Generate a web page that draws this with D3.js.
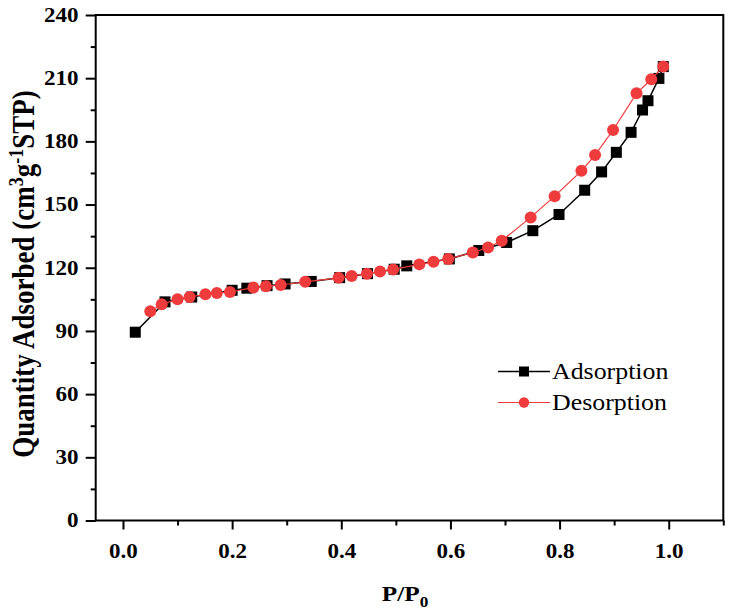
<!DOCTYPE html>
<html>
<head>
<meta charset="utf-8">
<script src="https://cdn.jsdelivr.net/npm/d3@7"></script>
<style>
  html, body { margin: 0; padding: 0; background: #fff; }
  svg { display: block; }
</style>
</head>
<body>
<svg id="chart" width="730" height="613"></svg>
<script>
// ---- Data ----
const adsP = [0.0225, 0.077, 0.126, 0.200, 0.227, 0.264, 0.297, 0.345, 0.397, 0.448, 0.497, 0.520, 0.598, 0.652, 0.703, 0.751, 0.799, 0.846, 0.877, 0.904, 0.931, 0.952, 0.962, 0.982, 0.990];
const adsQ = [89.4, 103.8, 106.1, 109.3, 110.3, 111.5, 112.3, 113.5, 115.3, 117.2, 119.3, 120.9, 124.2, 128.2, 132.0, 137.6, 145.3, 156.8, 165.5, 174.8, 184.3, 194.9, 199.3, 209.9, 215.5];
const desP = [0.990, 0.968, 0.941, 0.898, 0.865, 0.840, 0.791, 0.747, 0.694, 0.669, 0.641, 0.596, 0.569, 0.543, 0.495, 0.471, 0.447, 0.419, 0.395, 0.334, 0.289, 0.262, 0.239, 0.196, 0.172, 0.151, 0.122, 0.100, 0.071, 0.050];
const desQ = [215.5, 209.5, 202.8, 185.4, 173.5, 166.0, 154.0, 143.9, 132.8, 129.6, 127.2, 124.2, 122.8, 121.6, 119.2, 118.2, 117.2, 116.1, 115.2, 113.3, 111.8, 111.2, 110.6, 108.5, 108.0, 107.4, 106.1, 105.0, 102.7, 99.3];
const xTicks = [0.0, 0.2, 0.4, 0.6, 0.8, 1.0];
const xMinor = [0.1, 0.3, 0.5, 0.7, 0.9, 1.1];
const yTicks = [0, 30, 60, 90, 120, 150, 180, 210, 240];
const yMinor = [15, 45, 75, 105, 135, 165, 195, 225];
const seriesNames = ["Adsorption", "Desorption"];
const xTitle = "P/P";
const xTitleSub = "0";

const RED = "#ef3b3b";
const FONT = "'Liberation Serif','Times New Roman',serif";
const SX = 1.15; // horizontal stretch of the reference's text

const svg = d3.select("#chart");
svg.append("rect").attr("width", 730).attr("height", 613).attr("fill", "#fff");

const x = d3.scaleLinear().domain([-0.05, 1.1]).range([95.7, 723.3]);
const y = d3.scaleLinear().domain([0, 240]).range([520.5, 15]);

// ---- Axes ----
const xAxis = svg.append("g").attr("transform", `translate(0,${y(0)})`)
  .call(d3.axisBottom(x).tickValues(xTicks).tickFormat(d3.format(".1f")).tickSize(9).tickPadding(14));
const xAxisMinor = svg.append("g").attr("transform", `translate(0,${y(0)})`)
  .call(d3.axisBottom(x).tickValues(xMinor).tickFormat("").tickSize(5));
const yAxis = svg.append("g").attr("transform", `translate(${x(-0.05)},0)`)
  .call(d3.axisLeft(y).tickValues(yTicks).tickFormat(d3.format("d")).tickSize(10).tickPadding(5));
const yAxisMinor = svg.append("g").attr("transform", `translate(${x(-0.05)},0)`)
  .call(d3.axisLeft(y).tickValues(yMinor).tickFormat("").tickSize(5));

[xAxis, xAxisMinor, yAxis, yAxisMinor].forEach(g => {
  g.select(".domain").remove();
  g.selectAll(".tick line").attr("stroke", "#000").attr("stroke-width", 2);
  g.selectAll(".tick text")
    .attr("fill", "#000")
    .style("font-family", FONT)
    .style("font-weight", "bold")
    .style("font-size", "20px")
    .attr("transform", `scale(${SX},1)`);
});

// frame
svg.append("rect")
  .attr("x", x(-0.05)).attr("y", y(240))
  .attr("width", x(1.1) - x(-0.05)).attr("height", y(0) - y(240))
  .attr("fill", "none").attr("stroke", "#000").attr("stroke-width", 2);

// ---- Series ----
const ads = adsP.map((p, i) => [p, adsQ[i]]);
const des = desP.map((p, i) => [p, desQ[i]]);
const line = d3.line().x(d => x(d[0])).y(d => y(d[1]));

svg.append("path").datum(ads).attr("d", line)
  .attr("fill", "none").attr("stroke", "#000").attr("stroke-width", 1.5);
const sq = 11;
svg.append("g").selectAll("rect").data(ads).join("rect")
  .attr("x", d => x(d[0]) - sq / 2).attr("y", d => y(d[1]) - sq / 2)
  .attr("width", sq).attr("height", sq).attr("fill", "#000");

svg.append("path").datum(des).attr("d", line)
  .attr("fill", "none").attr("stroke", RED).attr("stroke-width", 1.2);
svg.append("g").selectAll("circle").data(des).join("circle")
  .attr("cx", d => x(d[0])).attr("cy", d => y(d[1])).attr("r", 6)
  .attr("fill", RED);

// ---- Legend ----
const legend = svg.append("g");
const rows = [{ name: seriesNames[0], yy: 371.5 }, { name: seriesNames[1], yy: 402.5 }];
rows.forEach((r, i) => {
  const col = i === 0 ? "#000" : RED;
  legend.append("line").attr("x1", 498).attr("x2", 550).attr("y1", r.yy).attr("y2", r.yy)
    .attr("stroke", col).attr("stroke-width", i === 0 ? 1.5 : 1.2);
  if (i === 0) {
    legend.append("rect").attr("x", 524 - 5).attr("y", r.yy - 5).attr("width", 10).attr("height", 10).attr("fill", "#000");
  } else {
    legend.append("circle").attr("cx", 524).attr("cy", r.yy).attr("r", 5.2).attr("fill", RED);
  }
  legend.append("g").attr("transform", `translate(552,${r.yy + 7.5}) scale(${SX},1)`)
    .append("text").text(r.name)
    .style("font-family", FONT).style("font-size", "22.5px").attr("fill", "#000");
});

// ---- Axis titles ----
const xt = svg.append("g").attr("transform", `translate(405,601) scale(${SX},1)`)
  .append("text").attr("text-anchor", "middle")
  .style("font-family", FONT).style("font-weight", "bold").style("font-size", "22px").attr("fill", "#000");
xt.append("tspan").text(xTitle);
xt.append("tspan").text(xTitleSub).attr("dy", 6).style("font-size", "15px");

const yt = svg.append("g").attr("transform", `translate(34,274) scale(${SX},1) rotate(-90)`)
  .append("text").attr("text-anchor", "middle")
  .style("font-family", FONT).style("font-weight", "bold").style("font-size", "27px").attr("fill", "#000");
yt.append("tspan").text("Quantity Adsorbed (cm");
yt.append("tspan").text("3").attr("dy", -10).style("font-size", "18px");
yt.append("tspan").text("g").attr("dy", 10);
yt.append("tspan").text("-1").attr("dy", -10).style("font-size", "18px");
yt.append("tspan").text("STP)").attr("dy", 10);
</script>
</body>
</html>
